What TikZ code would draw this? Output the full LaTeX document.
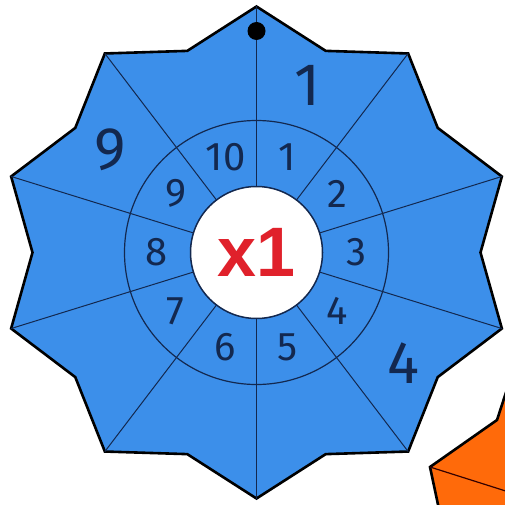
\documentclass[tikz,border=0pt]{standalone}
\usepackage{fontspec}
\newfontfamily\handfont{Fira Sans}
\newfontfamily\labelfont{Liberation Sans}
\definecolor{starblue}{HTML}{3C8FEA}
\definecolor{starorange}{HTML}{FF6A0A}
\definecolor{navyline}{HTML}{13284F}
\definecolor{signred}{HTML}{E0212B}
\begin{document}
\begin{tikzpicture}[x=1pt, y=1pt,
    outline/.style={draw=black, line width=2.6pt, line join=miter},
    spoke/.style={draw=navyline, line width=1pt},
    ringnum/.style={font=\handfont\fontsize{40}{40}\selectfont, text=navyline},
    outernum/.style={font=\handfont\fontsize{60}{60}\selectfont, text=navyline}]
    \useasboundingbox (0,0) rectangle (505,504);
    % zweiter Stern (nur Ecke sichtbar)
    \begin{scope}
        \clip (0,0) rectangle (505,504);
        \filldraw[outline, fill=starorange] (430,37) -- (497,84) -- (512,130) -- (512,-10) -- (440,-10) -- cycle;
        \draw[draw=black!80!red, line width=1.2pt] (430,37) -- (512,11);
    \end{scope}
    % Stern
    \begin{scope}[shift={(256.5,251.5)}]
        \coordinate (c) at (0,0);
        \filldraw[outline, fill=starblue] (90:258 and 246)
            \foreach \k in {0,...,9} { -- (72-36*\k:224 and 212) -- (54-36*\k:258 and 246) } -- cycle;
        % Speichen
        \foreach \k in {0,...,9} {
            \coordinate (o\k) at (90-36*\k:258 and 246);
            \draw[spoke] (c) -- (o\k);
        }
        % Ring
        \draw[spoke, line width=1.2pt] (c) circle (132);
        % Mitte
        \node[circle, fill=white, draw=navyline, line width=1.5pt, minimum size=132pt, inner sep=0pt,
              font=\labelfont\bfseries\fontsize{70}{70}\selectfont, text=signred] (hub) at (c) {x1};
        % Zahlen im Ring
        \foreach \n [count=\i from 0] in {1,...,10}
            \node[ringnum] (r\n) at (72-36*\i:100) {\n};
        % Ergebnisse
        \node[outernum] (e1) at (73:175) {1};
        \node[outernum] (e9) at (145:179) {9};
        \node[outernum] (e4) at (-37:184) {4};
        % Loch
        \fill[black] (0,221.5) circle (9);
    \end{scope}
\end{tikzpicture}
\end{document}
